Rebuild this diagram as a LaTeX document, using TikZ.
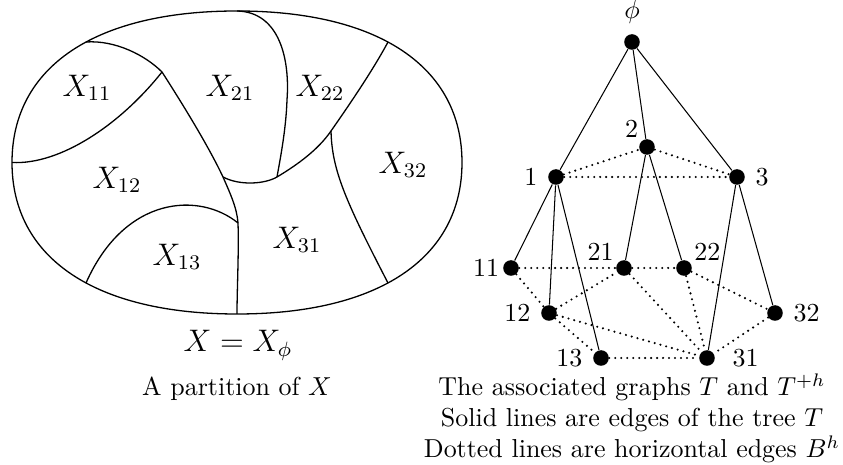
\documentclass[tikz,border=0pt]{standalone}
\usepackage{tikz}
\usetikzlibrary{positioning}

\begin{document}
\begin{tikzpicture}[
  x=0.385pt, y=-0.385pt,
  every node/.style={font=\normalsize},
  region/.style={line width=0.5pt},
  part/.style={font=\large},
  vertex/.style={circle, fill, inner sep=0pt, minimum size=6pt},
  every label/.style={inner sep=1pt},
  label distance=2.8pt,
  treeedge/.style={line width=0.4pt},
  horizedge/.style={line width=0.9pt, line cap=round, dash pattern=on 0pt off 2.3pt}
]
\useasboundingbox (0,0) rectangle (843,465);

% the set X and where the cuts meet its border
\coordinate (lft) at (12,162.5);
\coordinate (tl) at (86,42);
\coordinate (top) at (237,11);
\coordinate (tr) at (388,42);
\coordinate (rgt) at (462,162.5);
\coordinate (br) at (388,283);
\coordinate (bot) at (237,314);
\coordinate (bl) at (86,283);
\draw[region] (rgt) .. controls (462,67) and (379,11) .. (top)
  .. controls (95,11) and (12,67) .. (lft)
  .. controls (12,258) and (95,314) .. (bot)
  .. controls (379,314) and (462,258) .. cycle;

% inner junctions
\coordinate (p) at (162,72);
\coordinate (q) at (223,177);
\coordinate (r) at (238,223);
\coordinate (s) at (277,177);
\coordinate (u) at (331,131);

\draw[region] (lft) .. controls (60,165) and (120,125) .. (p);
\draw[region] (tl) .. controls (115,40) and (145,55) .. (p)
  .. controls (180,100) and (208,145) .. (q)
  .. controls (230,193) and (237,208) .. (r)
  .. controls (239,250) and (237,290) .. (bot);
\draw[region] (bl) .. controls (125,195) and (200,192) .. (r);
\draw[region] (q) .. controls (240,186) and (265,184) .. (s)
  .. controls (297,165) and (318,150) .. (u)
  .. controls (345,111) and (372,72) .. (tr);
\draw[region] (top) .. controls (280,12) and (290,60) .. (287,100)
  .. controls (286,130) and (280,160) .. (s);
\draw[region] (u) .. controls (332,170) and (345,200) .. (br);

\node[part] (x11) at (87,88) {$X_{11}$};
\node[part] (x21) at (230,88) {$X_{21}$};
\node[part] (x22) at (320,88) {$X_{22}$};
\node[part] (x12) at (117,180) {$X_{12}$};
\node[part] (x32) at (403,165) {$X_{32}$};
\node[part] (x13) at (177,257) {$X_{13}$};
\node[part] (x31) at (297,240) {$X_{31}$};

\node[part, anchor=base] (whole) at (238,352) {$X = X_\phi$};
\node[anchor=base] (capleft) at (237,396) {A partition of $X$};

% the tree T and the horizontal edges
\node[vertex, label=above:$\phi$] (root) at (632,42) {};
\node[vertex, label=left:1] (n1) at (556,177) {};
\node[vertex, label={[label distance=0pt]135:2}] (n2) at (647,147) {};
\node[vertex, label=right:3] (n3) at (737,177) {};
\node[vertex, label={[label distance=0.2pt]left:11}] (n11) at (511,268) {};
\node[vertex, label={[label distance=0pt]150:21}] (n21) at (624,268) {};
\node[vertex, label={[label distance=0pt]30:22}] (n22) at (684,268) {};
\node[vertex, label=left:12] (n12) at (549,313) {};
\node[vertex, label=right:32] (n32) at (775,313) {};
\node[vertex, label=left:13] (n13) at (601,358) {};
\node[vertex, label={[label distance=5.5pt]right:31}] (n31) at (707,358) {};

\draw[treeedge] (root) -- (n1);
\draw[treeedge] (root) -- (n2);
\draw[treeedge] (root) -- (n3);
\draw[treeedge] (n1) -- (n11);
\draw[treeedge] (n1) -- (n12);
\draw[treeedge] (n1) -- (n13);
\draw[treeedge] (n2) -- (n21);
\draw[treeedge] (n2) -- (n22);
\draw[treeedge] (n3) -- (n31);
\draw[treeedge] (n3) -- (n32);

\draw[horizedge] (n1) -- (n2);
\draw[horizedge] (n2) -- (n3);
\draw[horizedge] (n1) -- (n3);
\draw[horizedge] (n11) -- (n21);
\draw[horizedge] (n21) -- (n22);
\draw[horizedge] (n11) -- (n12);
\draw[horizedge] (n12) -- (n21);
\draw[horizedge] (n12) -- (n13);
\draw[horizedge] (n12) -- (n31);
\draw[horizedge] (n13) -- (n31);
\draw[horizedge] (n21) -- (n31);
\draw[horizedge] (n22) -- (n31);
\draw[horizedge] (n22) -- (n32);
\draw[horizedge] (n32) -- (n31);

\node[anchor=base] (capgraph) at (632,396) {The associated graphs $T$ and $T^{+h}$};
\node[anchor=base] (capsolid) at (632,427) {Solid lines are edges of the tree $T$};
\node[anchor=base] (capdot) at (632,458) {Dotted lines are horizontal edges $B^h$};
\end{tikzpicture}
\end{document}
